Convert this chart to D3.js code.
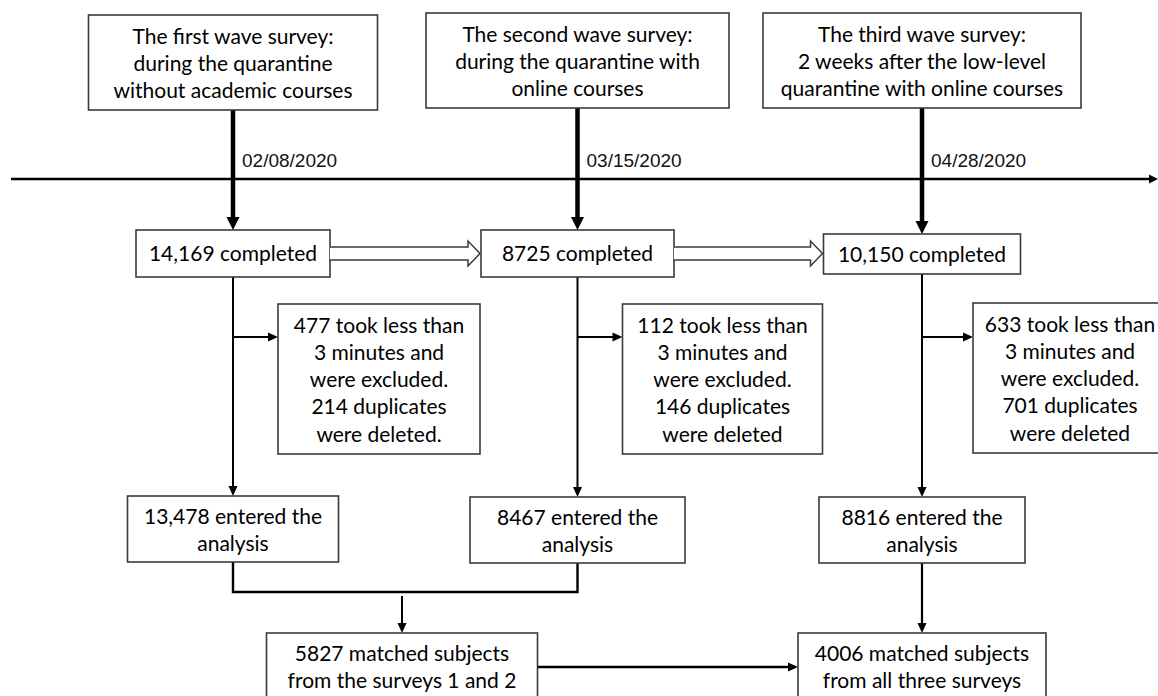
<!DOCTYPE html>
<html>
<head>
<meta charset="utf-8">
<script src="https://cdn.jsdelivr.net/npm/d3@7"></script>
<style>
  html, body { margin: 0; padding: 0; background: #fff; }
  svg { display: block; }
</style>
</head>
<body>
<svg id="chart" width="1158" height="696"></svg>
<script>
// ---------------- data ----------------
const waves = [0, 1, 2];
const surveyTitles = [
  ["The first wave survey:", "during the quarantine", "without academic courses"],
  ["The second wave survey:", "during the quarantine with", "online courses"],
  ["The third wave survey:", "2 weeks after the low-level", "quarantine with online courses"]
];
const surveyDates = ["02/08/2020", "03/15/2020", "04/28/2020"];
const completedCounts = ["14,169", "8725", "10,150"];
const tookLessCounts = ["477", "112", "633"];
const duplicateCounts = ["214", "146", "701"];
const deletedEndings = ["were deleted.", "were deleted", "were deleted"];
const enteredCounts = ["13,478", "8467", "8816"];
const matchedCounts = ["5827", "4006"];
const matchedSources = ["from the surveys 1 and 2", "from all three surveys"];

// ---------------- layout ----------------
const W = 1158, H = 696;
const svg = d3.select("#chart");
svg.append("rect").attr("width", W).attr("height", H).attr("fill", "#fff");

const x = d3.scaleLinear().domain([0, 2]).range([233, 922]);

const BOX_FONT = "Lato, 'Open Sans', sans-serif";
const BOX_SIZE = 21;
const LINE_GAP = 27.3;
const boxStroke = "#3a3a3a";
const ink = "#000";

const L = {
  top:      { y0: [15, 13, 13], y1: [110, 108, 108], w: [289, 303, 318] },
  timeline: { y: 179, x0: 11, x1: 1158 },
  dateBaseline: 167,
  completed:{ y0: [230, 230, 234], y1: [277, 277, 274], w: [194, 193, 197] },
  excl:     { y0: [304, 304, 303], y1: [454, 454, 453], off: [45, 45, 51], w: [202, 200, 194], branchY: 337 },
  entered:  { y0: [496, 497, 497], y1: [562, 563, 563], w: [211, 215, 206] },
  mergeY: 592,
  matched:  { y0: 633, y1: 702, cx: [402, 922], w: [271, 248] }
};

const gLines = svg.append("g");
const gBoxes = svg.append("g");

function box(x0, y0, w, h) {
  gBoxes.append("rect")
    .attr("x", x0).attr("y", y0).attr("width", w).attr("height", h)
    .attr("fill", "#fff").attr("stroke", boxStroke).attr("stroke-width", 1.6);
}
function lines(cx, firstCenterY, arr) {
  const t = gBoxes.append("text")
    .attr("font-family", BOX_FONT).attr("font-size", BOX_SIZE)
    .attr("fill", ink).attr("text-anchor", "middle");
  arr.forEach((s, i) => {
    t.append("tspan").attr("x", cx).attr("y", firstCenterY + i * LINE_GAP + 7.5).text(s);
  });
}
function thinArrowV(cx, y0, y1, sw = 2) {
  gLines.append("line").attr("x1", cx).attr("x2", cx).attr("y1", y0).attr("y2", y1 - 9)
    .attr("stroke", ink).attr("stroke-width", sw);
  gLines.append("path").attr("d", `M${cx - 4.5},${y1 - 10}L${cx + 4.5},${y1 - 10}L${cx},${y1}Z`).attr("fill", ink);
}
function thinArrowH(y, x0, x1, sw = 2) {
  gLines.append("line").attr("x1", x0).attr("x2", x1 - 9).attr("y1", y).attr("y2", y)
    .attr("stroke", ink).attr("stroke-width", sw);
  gLines.append("path").attr("d", `M${x1 - 10},${y - 4.5}L${x1 - 10},${y + 4.5}L${x1},${y}Z`).attr("fill", ink);
}

// timeline
gLines.append("line")
  .attr("x1", L.timeline.x0).attr("x2", L.timeline.x1 - 7)
  .attr("y1", L.timeline.y).attr("y2", L.timeline.y)
  .attr("stroke", ink).attr("stroke-width", 2.4);
gLines.append("path")
  .attr("d", `M${L.timeline.x1 - 9},${L.timeline.y - 4.5}L${L.timeline.x1 - 9},${L.timeline.y + 4.5}L${L.timeline.x1},${L.timeline.y}Z`)
  .attr("fill", ink);

// date labels
svg.append("g").selectAll("text").data(surveyDates).join("text")
  .attr("x", (d, i) => x(waves[i]) + 9)
  .attr("y", L.dateBaseline)
  .attr("font-family", "'Liberation Sans', Arial, sans-serif")
  .attr("font-size", 19)
  .attr("fill", "#111")
  .text(d => d);

// survey title boxes + thick arrows
waves.forEach(i => {
  const cx = x(i);
  const t = L.top, c = L.completed;
  box(cx - t.w[i] / 2, t.y0[i], t.w[i], t.y1[i] - t.y0[i]);
  lines(cx, t.y0[i] + 21, surveyTitles[i]);
  // thick arrow
  gLines.append("line").attr("x1", cx).attr("x2", cx)
    .attr("y1", t.y1[i]).attr("y2", c.y0[i] - 12)
    .attr("stroke", ink).attr("stroke-width", 4.5);
  gLines.append("path")
    .attr("d", `M${cx - 6.5},${c.y0[i] - 13}L${cx + 6.5},${c.y0[i] - 13}L${cx},${c.y0[i]}Z`)
    .attr("fill", ink);
});

// completed boxes
waves.forEach(i => {
  const cx = x(i), c = L.completed;
  box(cx - c.w[i] / 2, c.y0[i], c.w[i], c.y1[i] - c.y0[i]);
  const cy = (c.y0[i] + c.y1[i]) / 2;
  lines(cx, cy, [completedCounts[i] + " completed"]);
});

// hollow arrows between completed boxes
const midY = (L.completed.y0[0] + L.completed.y1[0]) / 2;
[0, 1].forEach(i => {
  const c = L.completed;
  const xs = x(i) + c.w[i] / 2;
  const xt = x(i + 1) - c.w[i + 1] / 2 - 1;
  const xb = xt - 12;
  gBoxes.append("path")
    .attr("d", `M${xs},${midY - 6.5}H${xb}V${midY - 12.5}L${xt},${midY}L${xb},${midY + 12.5}V${midY + 6.5}H${xs}`)
    .attr("fill", "#fff").attr("stroke", boxStroke).attr("stroke-width", 1.5);
});

// exclusion branches, entered boxes
waves.forEach(i => {
  const cx = x(i), c = L.completed, e = L.excl, n = L.entered;
  thinArrowV(cx, c.y1[i], n.y0[i]);
  const ex0 = cx + e.off[i];
  thinArrowH(e.branchY, cx, ex0);
  box(ex0, e.y0[i], e.w[i], e.y1[i] - e.y0[i]);
  lines(ex0 + e.w[i] / 2, e.y0[i] + 21, [
    tookLessCounts[i] + " took less than",
    "3 minutes and",
    "were excluded.",
    duplicateCounts[i] + " duplicates",
    deletedEndings[i]
  ]);
  box(cx - n.w[i] / 2, n.y0[i], n.w[i], n.y1[i] - n.y0[i]);
  lines(cx, n.y0[i] + 20, [enteredCounts[i] + " entered the", "analysis"]);
});

// merge connector for surveys 1 and 2
gLines.append("path")
  .attr("d", `M${x(0)},${L.entered.y1[0]}V${L.mergeY}H${x(1)}V${L.entered.y1[1]}`)
  .attr("fill", "none").attr("stroke", ink).attr("stroke-width", 2.4);
thinArrowV(L.matched.cx[0], L.mergeY + 4, L.matched.y0);
thinArrowV(x(2), L.entered.y1[2], L.matched.y0, 2.2);

// matched boxes
const m = L.matched;
[0, 1].forEach(i => {
  box(m.cx[i] - m.w[i] / 2, m.y0, m.w[i], m.y1 - m.y0);
  lines(m.cx[i], m.y0 + 20, [matchedCounts[i] + " matched subjects", matchedSources[i]]);
});
thinArrowH(667, m.cx[0] + m.w[0] / 2, m.cx[1] - m.w[1] / 2, 2.4);
</script>
</body>
</html>
